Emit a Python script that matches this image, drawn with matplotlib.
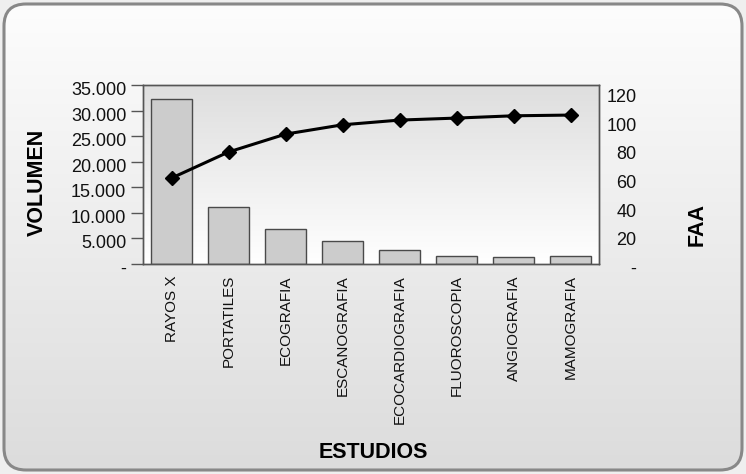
import numpy as np
import matplotlib
matplotlib.use("Agg")
import matplotlib.pyplot as plt
import matplotlib.transforms as mtransforms
from matplotlib.patches import FancyBboxPatch
from matplotlib import font_manager

# ── Data ─────────────────────────────────────────────
estudios = ["RAYOS X", "PORTATILES", "ECOGRAFIA", "ESCANOGRAFIA",
            "ECOCARDIOGRAFIA", "FLUOROSCOPIA", "ANGIOGRAFIA", "MAMOGRAFIA"]
volumen = [32250, 11100, 6800, 4550, 2750, 1600, 1300, 1600]
faa = [60.0, 78.2, 90.7, 97.2, 100.5, 101.9, 103.5, 104.0]

vol_ticks = [0, 5000, 10000, 15000, 20000, 25000, 30000, 35000]
vol_labels = ["-", "5.000", "10.000", "15.000", "20.000", "25.000", "30.000", "35.000"]
faa_ticks = [0, 20, 40, 60, 80, 100, 120]
faa_labels = ["-", "20", "40", "60", "80", "100", "120"]

names = {f.name for f in font_manager.fontManager.ttflist}
base = "Liberation Sans" if "Liberation Sans" in names else "DejaVu Sans"
plt.rcParams["font.family"] = base

W, H = 746, 474
fig = plt.figure(figsize=(W / 100, H / 100), dpi=100)
fig.patch.set_facecolor("#efefef")

# ── Background panel with gradient and rounded border ──
bg = fig.add_axes([0, 0, 1, 1], zorder=-5)
bg.set_xlim(0, W)
bg.set_ylim(0, H)
bg.axis("off")
grad = np.linspace(0, 1, 256).reshape(-1, 1)
cmap_bg = matplotlib.colors.LinearSegmentedColormap.from_list("bg", ["#fdfdfd", "#dcdcdc"])
im = bg.imshow(grad, extent=[4, 742, 4, 470], origin="upper", aspect="auto", cmap=cmap_bg)
box = FancyBboxPatch((4, 4), 738, 466, boxstyle="round,pad=0,rounding_size=22",
                     facecolor="none", edgecolor="#888888", linewidth=2.2)
bg.add_patch(box)
im.set_clip_path(box)

# ── Main axes ─────────────────────────────────────────
ax = fig.add_axes([143 / W, 1 - 264 / H, 456 / W, 179 / H])
ax2 = ax.twinx()

x = np.arange(len(estudios))
cmap_ax = matplotlib.colors.LinearSegmentedColormap.from_list("ax", ["#dedede", "#ffffff"])
ax.imshow(grad, extent=[0, 1, 0, 1], transform=ax.transAxes, origin="upper",
          aspect="auto", cmap=cmap_ax, zorder=0)
ax.bar(x, volumen, width=0.73, color="#cccccc", edgecolor="#4a4a4a",
       linewidth=1.0, zorder=2)
ax.set_xlim(-0.5, len(estudios) - 0.5)
ax.set_ylim(0, 35000)
ax.set_yticks(vol_ticks)
ax.set_yticklabels(vol_labels, fontsize=13, color="#111111")
ax.set_xticks(x)
ax.set_xticklabels(estudios, rotation=90, fontsize=11, color="#111111")
ax.tick_params(axis="y", direction="out", length=8.5, width=1, color="#555555", pad=3.5)
ax.tick_params(axis="x", length=0, pad=8)

ax2.plot(x, faa, color="black", linewidth=2.2, marker="D", markersize=7.5, zorder=3)
ax2.set_ylim(0, 125)
ax2.set_yticks(faa_ticks)
ax2.set_yticklabels(faa_labels, fontsize=13, color="#111111")
ax2.tick_params(axis="y", length=0, pad=27)

# labels sit a little below their ticks, as in the original
shift = mtransforms.ScaledTranslation(0, -2.5 / 72, fig.dpi_scale_trans)
for lbl in ax.get_yticklabels():
    lbl.set_transform(lbl.get_transform() + shift)
for lbl in ax2.get_yticklabels():
    lbl.set_horizontalalignment("right")
    lbl.set_transform(lbl.get_transform() + shift)

for a in (ax, ax2):
    for s in a.spines.values():
        s.set_color("#555555")
        s.set_linewidth(1.0)

fig.text(37 / W, 1 - 182 / H, "VOLUMEN", rotation=90, ha="center", va="center",
         fontsize=15.5, fontweight="bold")
fig.text(697 / W, 1 - 225 / H, "FAA", rotation=90, ha="center", va="center",
         fontsize=15.5, fontweight="bold")
fig.text(373 / W, 1 - 452 / H, "ESTUDIOS", ha="center", va="center",
         fontsize=15.5, fontweight="bold")

fig.savefig("out.png", dpi=100, facecolor=fig.get_facecolor())
